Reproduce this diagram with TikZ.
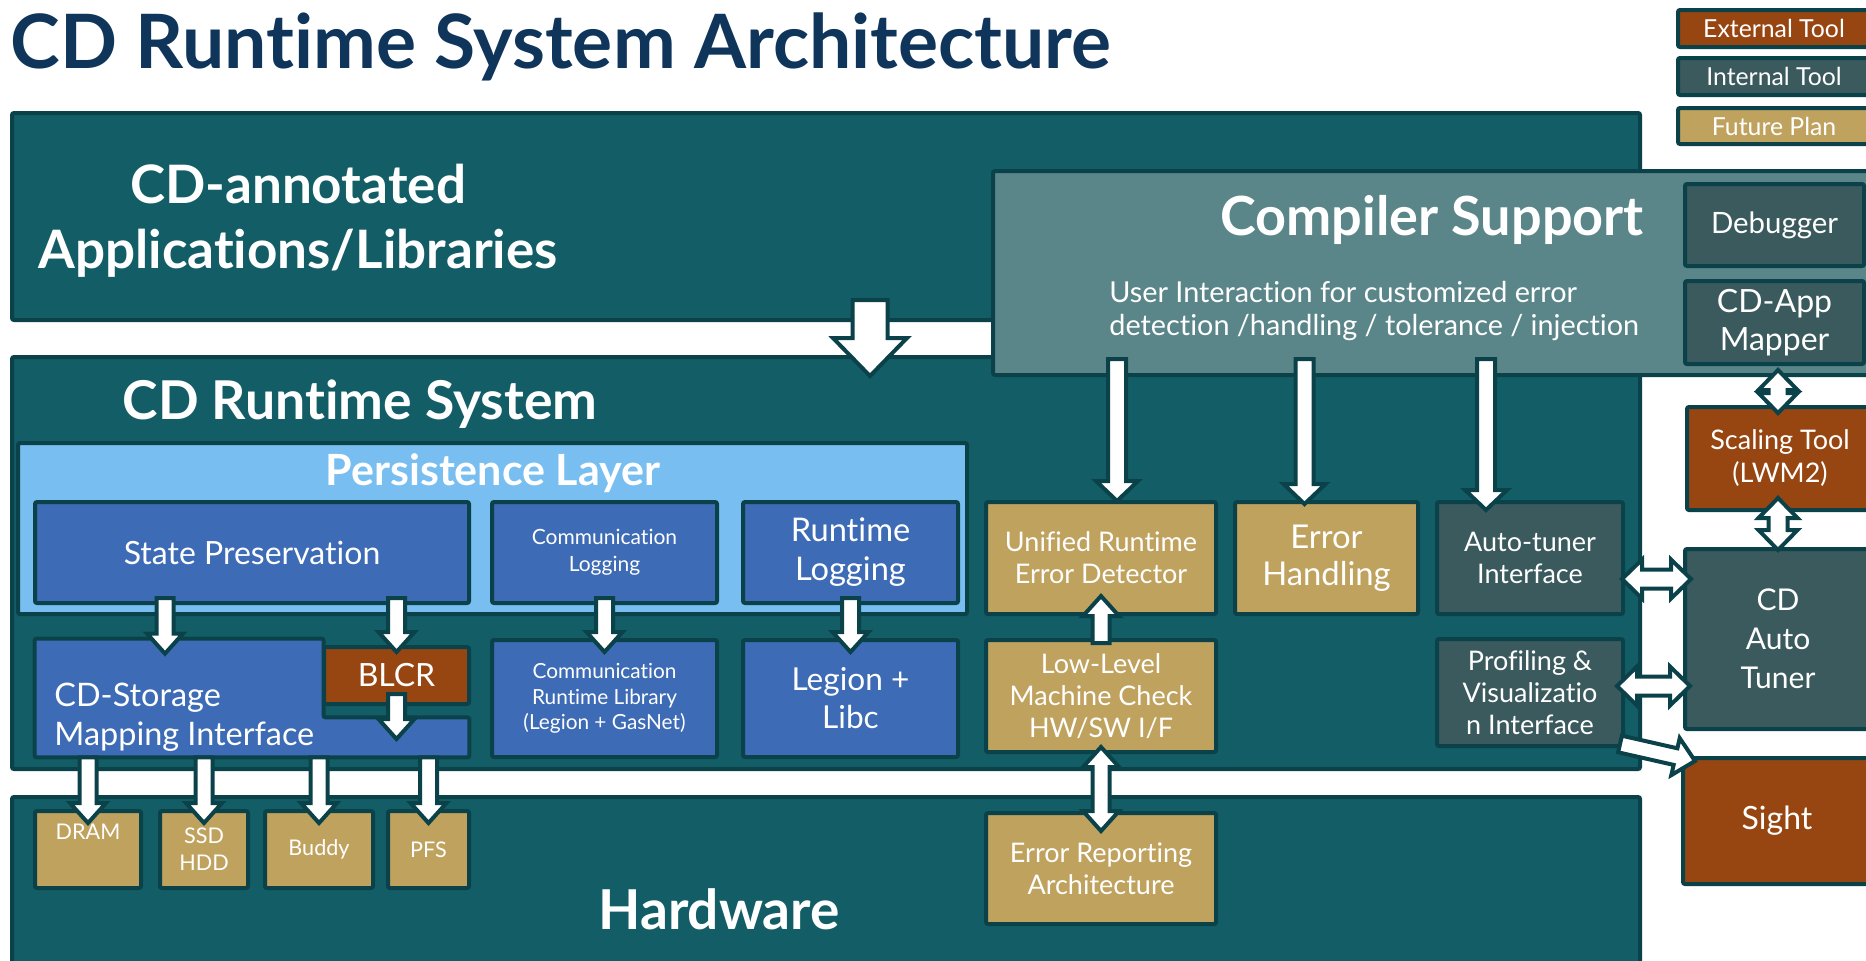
\documentclass[tikz,border=0pt]{standalone}
\usepackage{fontspec}
\setmainfont{Lato}[Ligatures=NoCommon]
\usetikzlibrary{calc}

\definecolor{bd}{HTML}{0B424A}
\definecolor{tealc}{HTML}{135E66}
\definecolor{compc}{HTML}{5B8689}
\definecolor{intc}{HTML}{3B5A5D}
\definecolor{extc}{HTML}{974612}
\definecolor{futc}{HTML}{BFA25E}
\definecolor{bluec}{HTML}{3D6BB5}
\definecolor{plc}{HTML}{78BEF0}
\definecolor{titlec}{HTML}{0F355B}

\newcommand\fs[2]{\fontsize{#1}{#2}\selectfont}
% box given by its outer corners (x1,y1)-(x2,y2)
\newcommand\bx[7]{\node[#2, minimum width={(#5-#3-4)*0.5pt}, minimum height={(#6-#4-4)*0.5pt}] (#1) at ({(#3+#5)/2},{(#4+#6)/2}) {#7};}
% block arrow: start, tip, half shaft, half head, head length
\newcommand\arrowone[5]{%
  \path ($(#2)!#5!(#1)$) coordinate (hB);
  \draw[arr] ($(#1)!#3!90:(#2)$) -- ($(hB)!#3!90:(#2)$) -- ($(hB)!#4!90:(#2)$) -- (#2)
     -- ($(hB)!#4!-90:(#2)$) -- ($(hB)!#3!-90:(#2)$) -- ($(#1)!#3!-90:(#2)$) -- cycle;}
% double-headed block arrow
\newcommand\arrowtwo[5]{%
  \path ($(#1)!#5!(#2)$) coordinate (hA) ($(#2)!#5!(#1)$) coordinate (hB);
  \draw[arr] (#1) -- ($(hA)!#4!90:(#2)$) -- ($(hA)!#3!90:(#2)$) -- ($(hB)!#3!90:(#2)$)
     -- ($(hB)!#4!90:(#2)$) -- (#2) -- ($(hB)!#4!-90:(#2)$) -- ($(hB)!#3!-90:(#2)$)
     -- ($(hA)!#3!-90:(#2)$) -- ($(hA)!#4!-90:(#2)$) -- cycle;}

\begin{document}
\begin{tikzpicture}[x=0.5pt, y=-0.5pt,
  box/.style={draw=bd, line width=2pt, inner sep=0pt, text=white, align=center, rounded corners=1pt},
  tealbox/.style={box, fill=tealc},
  compbox/.style={box, fill=compc},
  intbox/.style={box, fill=intc},
  extbox/.style={box, fill=extc},
  futbox/.style={box, fill=futc},
  bluebox/.style={box, fill=bluec},
  plbox/.style={box, fill=plc},
  arr/.style={draw=bd, fill=white, line width=2pt, line join=miter},
  heading/.style={text=white, font=\bfseries\fs{26.75}{32.5}, align=center, inner sep=0pt},
  label/.style={text=white, inner sep=0pt},
  small/.style={font=\fs{13.5}{16}},
]
\useasboundingbox (0,0) rectangle (1866,960);

% title
\node[anchor=base west, inner sep=0pt, text=titlec, font=\bfseries\fs{37.5}{44}] (title) at (10,68) {CD Runtime System Architecture};

% legend
\bx{lext}{extbox, font=\fs{12.4}{14}}{1676}{8}{1872}{49}{External Tool}
\bx{lint}{intbox, font=\fs{12.4}{14}}{1676}{56}{1872}{97}{Internal Tool}
\bx{lfut}{futbox, font=\fs{12.4}{14}}{1676}{106}{1872}{146}{Future Plan}

% main layers
\bx{apps}{tealbox}{10}{111}{1642}{322}{}
\node[heading, font=\bfseries\fs{26.5}{32.5}] (appst) at (298,221) {CD-annotated\\Applications/Libraries};
\bx{rts}{tealbox}{10}{355}{1642}{771}{}
\node[heading, anchor=base] (rtst) at (360,419) {CD Runtime System};
\bx{hw}{tealbox}{10}{795}{1642}{990}{}
\node[heading, anchor=base, font=\bfseries\fs{27.5}{30}] (hwt) at (719,929) {Hardware};

% compiler support
\bx{comp}{compbox}{991}{169}{1885}{377}{}
\node[label, anchor=base, font=\bfseries\fs{27}{30}] (compt) at (1432,235) {Compiler Support};
\node[label, anchor=west, align=left, font=\fs{14.4}{16.5}] (compu) at (1109,311) {User Interaction for customized error\\detection /handling / tolerance / injection};

% tools column
\bx{dbg}{intbox, font=\fs{14.7}{17}}{1683}{182}{1866}{268}{Debugger}
\bx{map}{intbox, font=\fs{16}{19}}{1683}{279}{1866}{366}{CD-App\\Mapper}
\bx{scl}{extbox, font=\fs{13.5}{16.5}}{1685}{405}{1875}{512}{Scaling Tool\\(LWM2)}
\bx{cdat}{intbox, font=\fs{15}{19.5}}{1683}{547}{1873}{731}{CD\\Auto\\Tuner}
\bx{sight}{extbox, font=\fs{16}{19}}{1681}{756}{1873}{886}{Sight}

% persistence layer
\bx{pl}{plbox}{16}{441}{969}{616}{}
\node[label, anchor=base, font=\bfseries\fs{21.5}{24}] (plt) at (493,485) {Persistence Layer};
\bx{sp}{bluebox, font=\fs{16}{18}}{33}{500}{471}{605}{State Preservation}
\bx{cl}{bluebox, font=\fs{10.5}{13.5}}{490}{500}{719}{605}{Communication\\Logging}
\bx{rl}{bluebox, font=\fs{16.3}{19.5}}{741}{500}{960}{605}{Runtime\\Logging}

% storage mapping (L-shaped) with BLCR in its notch
\bx{cds}{inner sep=0pt}{33}{637}{471}{759}{}
\coordinate (nk1) at ($(cds.north west)+(289,0)$);
\coordinate (nk2) at ($(cds.south east)+(0,-40)$);
\draw[bluebox] (cds.north west) -- (nk1) -- (nk1 |- nk2) -- (nk2) -- (cds.south east) -- (cds.south west) -- cycle;
\bx{blcr}{extbox, font=\fs{16}{18}}{322}{645}{471}{706}{BLCR}
\node[label, anchor=west, align=left, font=\fs{16.2}{19.5}] (cdst) at (54,717) {CD-Storage\\Mapping Interface};

\bx{crl}{bluebox, font=\fs{10.4}{12.75}}{490}{638}{719}{759}{Communication\\Runtime Library\\(Legion + GasNet)}
\bx{leg}{bluebox, font=\fs{15.8}{19}}{741}{638}{960}{759}{Legion +\\Libc}

% storage devices
\bx{dram}{futbox, font=\fs{10.8}{13.5}}{33}{809}{143}{890}{DRAM\\\strut}
\bx{ssd}{futbox, font=\fs{10.8}{13.5}}{158}{809}{250}{890}{SSD\\HDD}
\bx{buddy}{futbox, font=\fs{10.8}{13.5}}{263}{809}{375}{890}{Buddy}
\bx{pfs}{futbox, font=\fs{10.8}{13.5}}{386}{809}{471}{890}{PFS}

% error handling column
\bx{ured}{futbox, small}{984}{500}{1218}{616}{Unified Runtime\\Error Detector}
\bx{eh}{futbox, font=\fs{16.4}{18.5}}{1233}{500}{1420}{616}{Error\\Handling}
\bx{atif}{intbox, small}{1435}{500}{1625}{616}{Auto-tuner\\Interface}
\bx{llmc}{futbox, small}{984}{638}{1218}{754}{Low-Level\\Machine Check\\HW/SW I/F}
\bx{prof}{intbox, small}{1435}{637}{1625}{748}{Profiling \&\\Visualizatio\\n Interface}
\bx{era}{futbox, small}{984}{811}{1218}{926}{Error Reporting\\Architecture}

% arrow end points
\coordinate (a1s) at ($(apps.south)+(44,-22)$);
\coordinate (a1e) at ($(rts.north)+(44,21)$);
\coordinate (a2s) at ($(sp.south)+(-87,-7)$);
\coordinate (a2e) at ($(cds.north)+(-87,15)$);
\coordinate (a3s) at ($(sp.south -| blcr.north)+(0,-7)$);
\coordinate (a3e) at ($(blcr.north)+(0,7)$);
\coordinate (a4s) at ($(blcr.south)+(0,-12)$);
\coordinate (a4e) at ($(blcr.south)+(0,33)$);
\coordinate (a5s) at ($(cl.south)+(0,-7)$);
\coordinate (a5e) at ($(crl.north)+(0,14)$);
\coordinate (a6s) at ($(rl.south)+(0,-7)$);
\coordinate (a6e) at ($(leg.north)+(0,14)$);
\coordinate (a7s) at (cds.south -| dram.north);
\coordinate (a7e) at ($(dram.north)+(0,14)$);
\coordinate (a8s) at (cds.south -| ssd.north);
\coordinate (a8e) at ($(ssd.north)+(0,14)$);
\coordinate (a9s) at (cds.south -| buddy.north);
\coordinate (a9e) at ($(buddy.north)+(0,14)$);
\coordinate (a10s) at (cds.south -| pfs.north);
\coordinate (a10e) at ($(pfs.north)+(0,14)$);
\coordinate (c1s) at ($(comp.south -| ured.north)+(16,-18)$);
\coordinate (c1e) at ($(ured.north)+(16,1)$);
\coordinate (c2s) at ($(comp.south -| eh.north)+(-22,-18)$);
\coordinate (c2e) at ($(eh.north)+(-22,4)$);
\coordinate (c3s) at ($(comp.south -| atif.north)+(-44,-18)$);
\coordinate (c3e) at ($(atif.north)+(-44,10)$);
\coordinate (u1s) at ($(llmc.north)+(0,5)$);
\coordinate (u1e) at ($(ured.south)+(0,-20)$);
\coordinate (d1a) at ($(llmc.south)+(0,-7)$);
\coordinate (d1b) at ($(era.north)+(0,20)$);
\coordinate (d2a) at ($(map.south -| scl.north)+(-2,4)$);
\coordinate (d2b) at ($(scl.north)+(-2,8)$);
\coordinate (d3a) at ($(scl.south)+(-2,-14)$);
\coordinate (d3b) at ($(cdat.north)+(0,3)$);
\coordinate (d4a) at ($(atif.east)+(-3,21)$);
\coordinate (d4b) at ($(atif.east -| cdat.west)+(8,21)$);
\coordinate (d5a) at ($(prof.east)+(-8,-6.5)$);
\coordinate (d5b) at ($(prof.east -| cdat.west)+(7,-6.5)$);
\coordinate (s1s) at ($(prof.south east)+(-5,-4)$);
\coordinate (s1e) at ($(sight.north west)+(14,5)$);

% arrows
\arrowone{a1s}{a1e}{8.75pt}{18.5pt}{19pt}
\arrowone{a2s}{a2e}{4.25pt}{9pt}{10pt}
\arrowone{a3s}{a3e}{4.25pt}{9pt}{10pt}
\arrowone{a4s}{a4e}{4.25pt}{9pt}{10pt}
\arrowone{a5s}{a5e}{4.25pt}{9pt}{10pt}
\arrowone{a6s}{a6e}{4.25pt}{9pt}{10pt}
\arrowone{a7s}{a7e}{4.25pt}{9pt}{10pt}
\arrowone{a8s}{a8e}{4.25pt}{9pt}{10pt}
\arrowone{a9s}{a9e}{4.25pt}{9pt}{10pt}
\arrowone{a10s}{a10e}{4.25pt}{9pt}{10pt}
\arrowone{c1s}{c1e}{4.5pt}{10.5pt}{10pt}
\arrowone{c2s}{c2e}{4.5pt}{10.5pt}{10pt}
\arrowone{c3s}{c3e}{4.5pt}{10.5pt}{10pt}
\arrowone{u1s}{u1e}{4.25pt}{9pt}{10pt}
\arrowtwo{d1a}{d1b}{4.25pt}{9pt}{10pt}
\arrowtwo{d2a}{d2b}{4.75pt}{9.75pt}{10pt}
\arrowtwo{d3a}{d3b}{4.75pt}{9.75pt}{10pt}
\arrowtwo{d4a}{d4b}{4.75pt}{9.75pt}{10pt}
\arrowtwo{d5a}{d5b}{4.75pt}{9.75pt}{10pt}
\arrowone{s1s}{s1e}{4.25pt}{9.5pt}{10pt}
\end{tikzpicture}
\end{document}
